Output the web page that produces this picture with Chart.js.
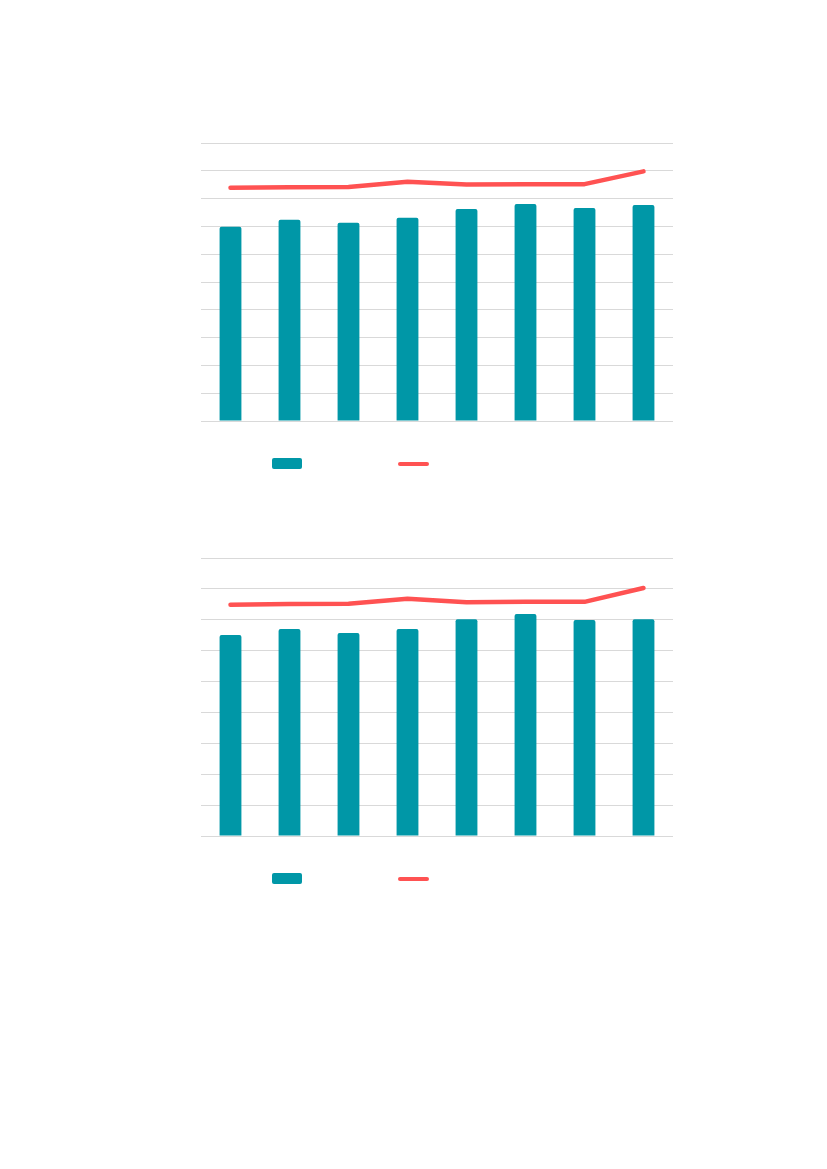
<!DOCTYPE html>
<html>
<head>
<meta charset="utf-8">
<script src="https://cdn.jsdelivr.net/npm/chart.js@4"></script>
<style>
  html, body { margin: 0; padding: 0; background: #fff; }
  body { width: 827px; height: 1169px; position: relative; overflow: hidden; }
  .chartBox { position: absolute; left: 0; width: 827px; height: 440px; }
  .legend { position: absolute; left: 0; top: 0; width: 827px; height: 0; }
  .legendItem { position: absolute; }
</style>
</head>
<body>
<div class="chartBox" style="top:0px"><canvas id="chartTop" width="827" height="440"></canvas></div>
<div class="legend" id="legendTop" style="top:458px"></div>
<div class="chartBox" style="top:415px"><canvas id="chartBottom" width="827" height="440"></canvas></div>
<div class="legend" id="legendBottom" style="top:873px"></div>
<script>
// categories (their labels are not shown in the picture)
const categories = ['1', '2', '3', '4', '5', '6', '7', '8'];

// upper chart
const topBars = [69.9, 72.4, 71.3, 73.1, 76.3, 78.1, 76.6, 77.7];
const topLine = [83.9, 84.1, 84.2, 86.1, 85.1, 85.2, 85.2, 89.8];
const topMax = 100;

// lower chart
const bottomBars = [65.1, 67.0, 65.7, 67.0, 70.2, 71.9, 69.9, 70.2];
const bottomLine = [74.9, 75.1, 75.2, 76.8, 75.7, 75.8, 75.8, 80.3];
const bottomMax = 90;

const teal = '#0097a7';
const red = '#ff5252';
const gridGray = '#d9d9d9';

function makeChart(canvasId, legendId, bars, line, yMax) {
  const ctx = document.getElementById(canvasId).getContext('2d');
  const chart = new Chart(ctx, {
    data: {
      labels: categories,
      datasets: [
        {
          type: 'line',
          label: 'line',
          data: line,
          borderColor: red,
          backgroundColor: red,
          borderWidth: 4.5,
          pointRadius: 0,
          tension: 0,
          borderCapStyle: 'round',
          borderJoinStyle: 'round',
          order: 0,
        },
        {
          type: 'bar',
          label: 'bars',
          data: bars,
          backgroundColor: teal,
          borderRadius: 2,
          categoryPercentage: 1,
          barPercentage: 0.37,
          order: 1,
        },
      ],
    },
    options: {
      responsive: false,
      animation: false,
      devicePixelRatio: 1,
      layout: {
        padding: { left: 201, right: 154, top: 143, bottom: 19 },
      },
      plugins: {
        legend: { display: false },
        tooltip: { enabled: false },
      },
      scales: {
        x: {
          display: false,
        },
        y: {
          min: 0,
          max: yMax,
          ticks: { display: false, stepSize: 10 },
          border: { display: false },
          grid: { color: gridGray, lineWidth: 1, drawTicks: false },
        },
      },
    },
  });

  // legend built from the datasets: bar swatch, then line swatch
  const legend = document.getElementById(legendId);
  const barSet = chart.data.datasets[1];
  const lineSet = chart.data.datasets[0];
  const box = document.createElement('div');
  box.className = 'legendItem';
  box.style.cssText = 'left:272px;top:0px;width:30px;height:11px;border-radius:2px;background:' + barSet.backgroundColor;
  legend.appendChild(box);
  const stroke = document.createElement('div');
  stroke.className = 'legendItem';
  stroke.style.cssText = 'left:398px;top:3.5px;width:31px;height:4px;border-radius:2px;background:' + lineSet.borderColor;
  legend.appendChild(stroke);
  return chart;
}

makeChart('chartTop', 'legendTop', topBars, topLine, topMax);
makeChart('chartBottom', 'legendBottom', bottomBars, bottomLine, bottomMax);
</script>
</body>
</html>
